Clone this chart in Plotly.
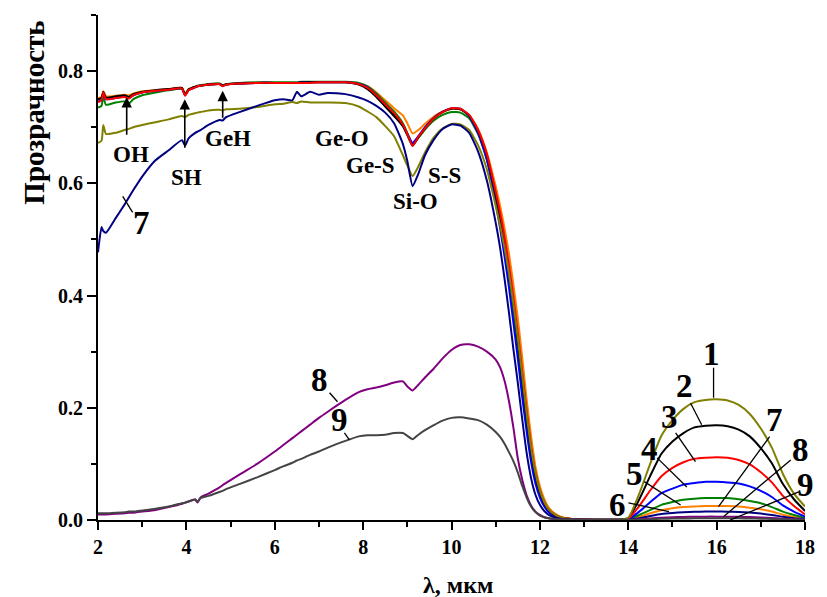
import plotly.graph_objects as go

# ---------------- data ----------------
wl = [2.0, 2.08, 2.12, 2.18, 2.4, 2.6, 2.7, 2.8, 3.0, 3.3,
      3.6, 3.9, 3.97, 4.05, 4.2, 4.25, 4.32, 4.5, 4.75, 4.82,
      4.9, 5.2, 5.6, 6.0, 6.2, 6.4, 6.5, 6.6, 6.8, 7.0,
      7.2, 7.6, 7.9, 8.1, 8.3, 8.5, 8.7, 8.9, 9.0, 9.12,
      9.25, 9.4, 9.6, 9.8, 10.0, 10.2, 10.4, 10.6, 10.8, 11.0,
      11.1, 11.2, 11.3, 11.4, 11.5, 11.6, 11.7, 11.8, 11.9, 12.0,
      12.1, 12.2, 12.35, 12.5, 12.75, 13.0, 13.25, 13.5, 13.75]
wl_peak = [14.0, 14.25, 14.5, 14.75, 15.0, 15.25, 15.5, 15.75, 16.0,
           16.25, 16.5, 16.75, 17.0, 17.25, 17.5, 17.75, 18.0]

t1_main = [0.672, 0.676, 0.704, 0.688, 0.690, 0.695, 0.697, 0.700, 0.704, 0.709,
           0.714, 0.720, 0.718, 0.722, 0.725, 0.726, 0.727, 0.730, 0.731, 0.730,
           0.732, 0.733, 0.736, 0.741, 0.742, 0.745, 0.743, 0.746, 0.744, 0.744,
           0.744, 0.743, 0.737, 0.728, 0.718, 0.702, 0.684, 0.650, 0.632, 0.613,
           0.630, 0.655, 0.682, 0.698, 0.706, 0.705, 0.695, 0.668, 0.625, 0.560,
           0.525, 0.485, 0.440, 0.385, 0.325, 0.258, 0.190, 0.130, 0.085, 0.053,
           0.032, 0.019, 0.009, 0.004, 0.0015, 0.0008, 0.0005, 0.0005, 0.0005]
t2_main = [0.750, 0.752, 0.763, 0.753, 0.755, 0.757, 0.754, 0.759, 0.763, 0.766,
           0.768, 0.770, 0.758, 0.767, 0.772, 0.773, 0.774, 0.776, 0.777, 0.774,
           0.776, 0.778, 0.779, 0.779, 0.779, 0.779, 0.779, 0.780, 0.780, 0.780,
           0.780, 0.780, 0.776, 0.768, 0.754, 0.737, 0.720, 0.702, 0.686, 0.667,
           0.682, 0.698, 0.716, 0.727, 0.733, 0.732, 0.721, 0.694, 0.650, 0.580,
           0.540, 0.495, 0.445, 0.385, 0.320, 0.250, 0.183, 0.125, 0.080, 0.050,
           0.030, 0.018, 0.008, 0.004, 0.0015, 0.0008, 0.0005, 0.0005, 0.0005]
t3_main = [0.745, 0.748, 0.762, 0.750, 0.752, 0.754, 0.751, 0.757, 0.762, 0.765,
           0.767, 0.769, 0.756, 0.766, 0.771, 0.773, 0.774, 0.776, 0.777, 0.773,
           0.776, 0.778, 0.779, 0.779, 0.779, 0.779, 0.779, 0.779, 0.779, 0.780,
           0.780, 0.780, 0.777, 0.770, 0.757, 0.741, 0.725, 0.705, 0.688, 0.667,
           0.683, 0.698, 0.716, 0.727, 0.734, 0.733, 0.722, 0.695, 0.652, 0.585,
           0.548, 0.505, 0.455, 0.398, 0.335, 0.265, 0.195, 0.133, 0.085, 0.053,
           0.032, 0.019, 0.009, 0.004, 0.0015, 0.0008, 0.0005, 0.0005, 0.0005]
t4_main = [0.746, 0.748, 0.761, 0.750, 0.752, 0.755, 0.752, 0.757, 0.762, 0.765,
           0.767, 0.769, 0.757, 0.766, 0.771, 0.773, 0.774, 0.776, 0.777, 0.774,
           0.776, 0.778, 0.779, 0.779, 0.779, 0.779, 0.779, 0.780, 0.780, 0.780,
           0.780, 0.780, 0.777, 0.771, 0.757, 0.740, 0.722, 0.703, 0.688, 0.672,
           0.684, 0.700, 0.717, 0.728, 0.734, 0.733, 0.720, 0.690, 0.642, 0.565,
           0.520, 0.470, 0.415, 0.352, 0.288, 0.220, 0.158, 0.104, 0.065, 0.040,
           0.024, 0.014, 0.006, 0.003, 0.0012, 0.0007, 0.0005, 0.0005, 0.0005]
t5_main = [0.735, 0.738, 0.755, 0.740, 0.744, 0.746, 0.742, 0.750, 0.757, 0.762,
           0.766, 0.768, 0.757, 0.767, 0.772, 0.774, 0.775, 0.777, 0.778, 0.775,
           0.777, 0.779, 0.780, 0.780, 0.780, 0.780, 0.780, 0.781, 0.781, 0.781,
           0.781, 0.781, 0.779, 0.773, 0.760, 0.744, 0.728, 0.707, 0.690, 0.670,
           0.681, 0.696, 0.712, 0.722, 0.727, 0.726, 0.716, 0.688, 0.643, 0.572,
           0.530, 0.483, 0.430, 0.370, 0.305, 0.237, 0.172, 0.115, 0.073, 0.045,
           0.027, 0.016, 0.007, 0.003, 0.0012, 0.0007, 0.0005, 0.0005, 0.0005]
t6_main = [0.752, 0.754, 0.764, 0.755, 0.756, 0.758, 0.757, 0.760, 0.764, 0.766,
           0.768, 0.770, 0.760, 0.768, 0.772, 0.773, 0.774, 0.776, 0.777, 0.775,
           0.776, 0.778, 0.779, 0.779, 0.779, 0.779, 0.779, 0.780, 0.780, 0.780,
           0.780, 0.780, 0.778, 0.773, 0.762, 0.748, 0.734, 0.721, 0.707, 0.689,
           0.695, 0.706, 0.719, 0.728, 0.733, 0.732, 0.722, 0.697, 0.655, 0.595,
           0.560, 0.520, 0.475, 0.420, 0.360, 0.290, 0.215, 0.150, 0.095, 0.060,
           0.037, 0.022, 0.011, 0.005, 0.002, 0.001, 0.0005, 0.0005, 0.0005]
t7_main = [0.477, 0.522, 0.515, 0.512, 0.538, 0.562, 0.575, 0.588, 0.612, 0.641,
           0.659, 0.677, 0.667, 0.680, 0.690, 0.692, 0.695, 0.704, 0.713, 0.712,
           0.718, 0.727, 0.738, 0.748, 0.750, 0.748, 0.763, 0.755, 0.763, 0.758,
           0.761, 0.759, 0.753, 0.747, 0.738, 0.726, 0.707, 0.670, 0.640, 0.595,
           0.617, 0.650, 0.678, 0.697, 0.705, 0.703, 0.690, 0.657, 0.605, 0.530,
           0.485, 0.430, 0.370, 0.305, 0.245, 0.180, 0.120, 0.075, 0.045, 0.027,
           0.016, 0.009, 0.004, 0.002, 0.001, 0.0005, 0.0005, 0.0005, 0.0005]
t8_main = [0.010, 0.010, 0.010, 0.010, 0.011, 0.012, 0.013, 0.013, 0.015, 0.018,
           0.023, 0.029, 0.031, 0.033, 0.037, 0.031, 0.040, 0.047, 0.058, 0.062,
           0.066, 0.081, 0.100, 0.122, 0.134, 0.146, 0.152, 0.158, 0.170, 0.182,
           0.193, 0.214, 0.228, 0.233, 0.236, 0.240, 0.245, 0.247, 0.238, 0.231,
           0.241, 0.254, 0.270, 0.288, 0.303, 0.312, 0.313, 0.309, 0.300, 0.286,
           0.272, 0.248, 0.212, 0.165, 0.110, 0.072, 0.044, 0.026, 0.015, 0.009,
           0.005, 0.003, 0.0015, 0.001, 0.0005, 0.0003, 0.0002, 0.0002, 0.0002]
t9_main = [0.012, 0.012, 0.012, 0.012, 0.013, 0.014, 0.015, 0.015, 0.017, 0.020,
           0.024, 0.030, 0.031, 0.033, 0.036, 0.033, 0.039, 0.043, 0.050, 0.052,
           0.055, 0.064, 0.076, 0.089, 0.096, 0.102, 0.106, 0.109, 0.116, 0.122,
           0.129, 0.141, 0.149, 0.151, 0.151, 0.152, 0.155, 0.155, 0.150, 0.144,
           0.152, 0.160, 0.169, 0.177, 0.182, 0.183, 0.181, 0.178, 0.170, 0.157,
           0.148, 0.136, 0.121, 0.105, 0.085, 0.061, 0.040, 0.024, 0.014, 0.008,
           0.005, 0.003, 0.0015, 0.001, 0.0005, 0.0003, 0.0002, 0.0002, 0.0002]

t1_peak = [0.004, 0.047, 0.101, 0.150, 0.178, 0.198, 0.210, 0.214, 0.215, 0.213, 0.205, 0.189, 0.163, 0.129, 0.082, 0.047, 0.024]
t2_peak = [0.003, 0.037, 0.079, 0.118, 0.140, 0.155, 0.165, 0.168, 0.169, 0.167, 0.161, 0.149, 0.128, 0.101, 0.064, 0.037, 0.016]
t3_peak = [0.002, 0.025, 0.053, 0.078, 0.093, 0.103, 0.109, 0.111, 0.112, 0.111, 0.107, 0.099, 0.085, 0.067, 0.043, 0.025, 0.010]
t4_peak = [0.001, 0.015, 0.032, 0.048, 0.056, 0.063, 0.066, 0.068, 0.068, 0.067, 0.065, 0.060, 0.052, 0.041, 0.026, 0.015, 0.006]
t5_peak = [0.001, 0.009, 0.018, 0.027, 0.032, 0.036, 0.038, 0.039, 0.039, 0.039, 0.037, 0.034, 0.030, 0.023, 0.015, 0.009, 0.004]
t6_peak = [0.0005, 0.0055, 0.012, 0.0175, 0.021, 0.023, 0.024, 0.025, 0.025, 0.025, 0.024, 0.022, 0.019, 0.015, 0.0095, 0.0055, 0.003]
t7_peak = [0.0003, 0.0033, 0.007, 0.0105, 0.0125, 0.0138, 0.0146, 0.015, 0.015, 0.0149, 0.0143, 0.0132, 0.0114, 0.009, 0.0057, 0.0033, 0.0017]
t8_peak = [0.0001, 0.0013, 0.0028, 0.0042, 0.005, 0.0055, 0.0058, 0.006, 0.006, 0.0059, 0.0057, 0.0053, 0.0046, 0.0036, 0.0023, 0.0013, 0.0007]
t9_peak = [0.0001, 0.0007, 0.0014, 0.0021, 0.0025, 0.0028, 0.0029, 0.003, 0.003, 0.003, 0.0029, 0.0027, 0.0023, 0.0018, 0.0012, 0.0007, 0.0004]

series_names = ["1", "2", "3", "4", "5", "6", "7", "8", "9"]
mains = [t1_main, t2_main, t3_main, t4_main, t5_main, t6_main, t7_main, t8_main, t9_main]
peaks = [t1_peak, t2_peak, t3_peak, t4_peak, t5_peak, t6_peak, t7_peak, t8_peak, t9_peak]
colors = ["#808000", "#000000", "#ff0000", "#0000ff", "#008000", "#ff8000", "#000080", "#800080", "#444444"]

x_ticks = [2, 4, 6, 8, 10, 12, 14, 16, 18]
y_ticks = [0.0, 0.2, 0.4, 0.6, 0.8]

for m in mains:
    assert len(m) == len(wl), len(m)
for p in peaks:
    assert len(p) == len(wl_peak), len(p)

FONT = "Liberation Serif"

fig = go.Figure()
for i in [5, 4, 3, 1, 2, 0, 6, 7, 8]:
    fig.add_trace(go.Scatter(
        x=wl + wl_peak, y=mains[i] + peaks[i], mode="lines",
        name=series_names[i],
        line=dict(color=colors[i], width=2, shape="spline", smoothing=0.5),
        showlegend=False, hoverinfo="skip"))

W, H = 827, 597
L, R, T, B = 98, 15, 15, 77
PW, PH = W - L - R, 520 - T


def dx(px):
    return 2 + (px - 98) / 44.65


def dy(py):
    return (520 - py) / 560


def paper_x(px):
    return (px - L) / PW


def paper_y(py):
    return (520 - py) / PH


anns = []
# band labels
for txt, px, py in [("OH", 131, 154), ("SH", 187, 178), ("GeH", 229, 138),
                    ("Ge-O", 344, 138), ("Ge-S", 373, 165), ("Si-O", 419, 201),
                    ("S-S", 448, 176)]:
    anns.append(dict(x=paper_x(px), y=paper_y(py), xref="paper", yref="paper", text=txt,
                     showarrow=False,
                     font=dict(family=FONT, size=23, color="black", weight="bold"),
                     xanchor="center", yanchor="middle"))
# number labels
for txt, px, py in [("7", 142, 223), ("8", 322, 380), ("9", 342, 420),
                    ("1", 718, 354), ("2", 690, 386), ("3", 675, 417),
                    ("4", 655, 449), ("5", 640, 474), ("6", 623, 505),
                    ("7", 781, 420), ("8", 807, 450), ("9", 813, 485)]:
    anns.append(dict(x=paper_x(px), y=paper_y(py), xref="paper", yref="paper", text=txt,
                     showarrow=False,
                     font=dict(family=FONT, size=33, color="black", weight="bold"),
                     xanchor="center", yanchor="middle"))
# arrows
for px, ty, hy in [(127, 137, 98), (185.7, 150, 100), (224, 120, 91.7)]:
    anns.append(dict(x=dx(px), y=dy(hy), ax=dx(px), ay=dy(ty), axref="x", ayref="y",
                     xref="x", yref="y", text="", showarrow=True, arrowhead=2,
                     arrowsize=1.3, arrowwidth=1.6, arrowcolor="black"))
# axis titles
anns.append(dict(x=paper_x(33), y=paper_y(113), xref="paper", yref="paper",
                 text="Прозрачность", textangle=-90, showarrow=False,
                 font=dict(family=FONT, size=29, color="black", weight="bold"),
                 xanchor="center", yanchor="middle"))
anns.append(dict(x=paper_x(462), y=paper_y(585), xref="paper", yref="paper",
                 text="λ, мкм", showarrow=False,
                 font=dict(family=FONT, size=24, color="black", weight="bold"),
                 xanchor="center", yanchor="middle"))

shapes = []
for (x0, y0, x1, y1) in [(123, 197, 133, 213), (332, 393, 340, 402), (347, 433, 352, 440),
                         (720, 368, 720, 398), (696.7, 403.3, 708, 425), (681.7, 433, 701.7, 461.7),
                         (663, 458, 693, 487), (650, 481.7, 686.7, 505), (634, 503, 675, 511.7),
                         (776.7, 436.7, 725, 506.7), (798, 460, 730, 516.7), (806.7, 491.7, 736.7, 520)]:
    shapes.append(dict(type="line", xref="x", yref="y", x0=dx(x0), y0=dy(y0), x1=dx(x1), y1=dy(y1),
                       line=dict(color="black", width=1.3)))

fig.update_layout(
    width=W, height=H, margin=dict(l=L, r=R, t=T, b=B),
    paper_bgcolor="white", plot_bgcolor="white",
    annotations=anns, shapes=shapes, showlegend=False,
    font=dict(family=FONT, color="black"),
)
fig.update_xaxes(range=[2, 18], tickvals=x_ticks, ticktext=[str(v) for v in x_ticks],
                 showgrid=False, zeroline=False, showline=True, linecolor="black", linewidth=2,
                 ticks="outside", ticklen=8, tickwidth=2, tickcolor="black",
                 tickfont=dict(family=FONT, size=20, color="black", weight="bold"),
                 minor=dict(ticks="outside", ticklen=5, tickwidth=2, dtick=1, tick0=0, tickcolor="black"))
fig.update_yaxes(range=[0, 0.9], tickvals=y_ticks, ticktext=["%.1f" % v for v in y_ticks],
                 showgrid=False, zeroline=False, showline=True, linecolor="black", linewidth=2,
                 ticks="outside", ticklen=9, tickwidth=2, tickcolor="black",
                 tickfont=dict(family=FONT, size=20, color="black", weight="bold"),
                 minor=dict(ticks="outside", ticklen=5, tickwidth=2, dtick=0.1, tick0=0, tickcolor="black"))

fig.write_html("out.html")
